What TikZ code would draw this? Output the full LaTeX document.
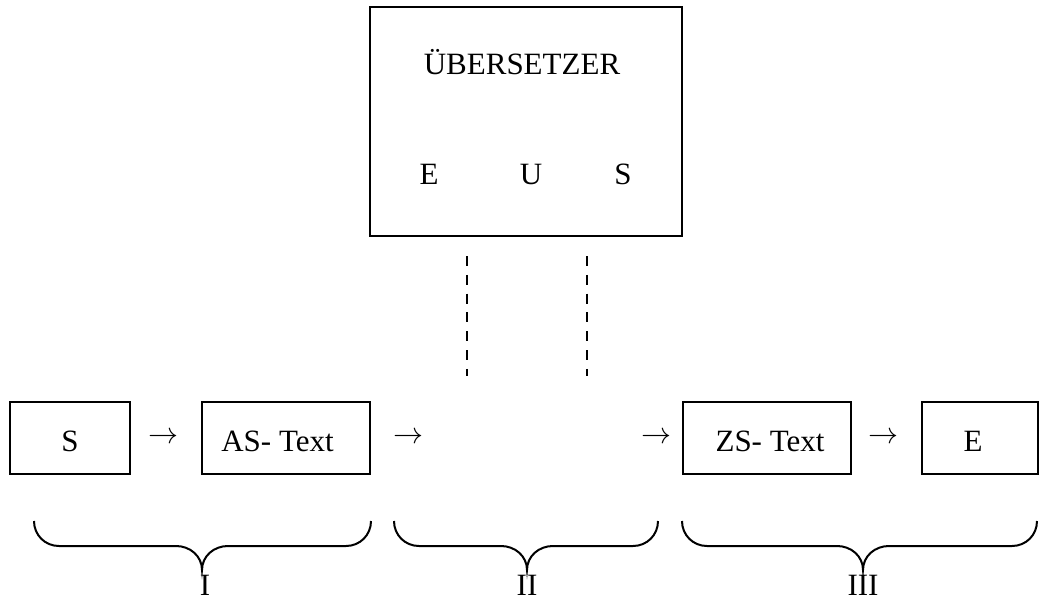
\documentclass[tikz,border=0pt]{standalone}
\usepackage{fontspec}
\setmainfont{Liberation Serif}
\begin{document}
\begin{tikzpicture}[x=1pt,y=-1pt,
  box/.style={draw,line width=2pt,rectangle,inner sep=0pt},
  txt/.style={font=\fontsize{31}{36}\selectfont,inner sep=0pt,anchor=base},
  arr/.style={inner sep=0pt,anchor=center},
  link/.style={line width=2pt,dash pattern=on 10pt off 8.8pt},
  brace/.style={line width=2pt}]
\useasboundingbox (0,0) rectangle (1039,600);

% translator box
\node[box,line width=2.5pt,minimum width=312pt,minimum height=229pt] (tr) at (526,121.5) {};
\node[txt] (trname) at (522,74) {ÜBERSETZER};
\node[txt] (tre) at (429,184) {E};
\node[txt] (tru) at (531,184) {U};
\node[txt] (trs) at (623,184) {S};

% dashed links down to the gap
\coordinate (la) at (467,256);
\coordinate (lb) at (467,376);
\coordinate (ra) at (587,256);
\coordinate (rb) at (587,376);
\draw[link] (la) -- (lb);
\draw[link] (ra) -- (rb);

% chain of boxes
\node[box,minimum width=120pt,minimum height=72pt] (src) at (70,438) {};
\node[txt] (srctxt) at (70,451) {S};
\node[box,minimum width=168pt,minimum height=72pt] (ast) at (286,438) {};
\node[txt] (asttxt) at (277.5,451) {AS- Text};
\node[box,minimum width=168pt,minimum height=72pt] (zst) at (767,438) {};
\node[txt] (zsttxt) at (770,451) {ZS- Text};
\node[box,minimum width=116pt,minimum height=72pt] (rcv) at (980,438) {};
\node[txt] (rcvtxt) at (973,451) {E};

% arrows between the stages
\newcommand\steparrow{\resizebox{30pt}{!}{$\rightarrow$}}
\node[arr] (a1) at (163,438) {\steparrow};
\node[arr] (a2) at (408,438) {\steparrow};
\node[arr] (a3) at (656,438) {\steparrow};
\node[arr] (a4) at (883,438) {\steparrow};

% braces grouping the phases
\foreach \a/\t/\b in {34/202/371, 394/527/658, 682/863/1037}{
  \draw[brace] (\a,521) .. controls (\a,535) and (\a+11,546) .. (\a+25,546)
    -- (\t-26,546) .. controls (\t-12,546) and (\t,556) .. (\t,570)
    .. controls (\t,556) and (\t+12,546) .. (\t+26,546)
    -- (\b-25,546) .. controls (\b-11,546) and (\b,535) .. (\b,521);
}
\node[txt] (p1) at (205,595) {I};
\node[txt] (p2) at (527,595) {II};
\node[txt] (p3) at (863,595) {III};
\end{tikzpicture}
\end{document}
